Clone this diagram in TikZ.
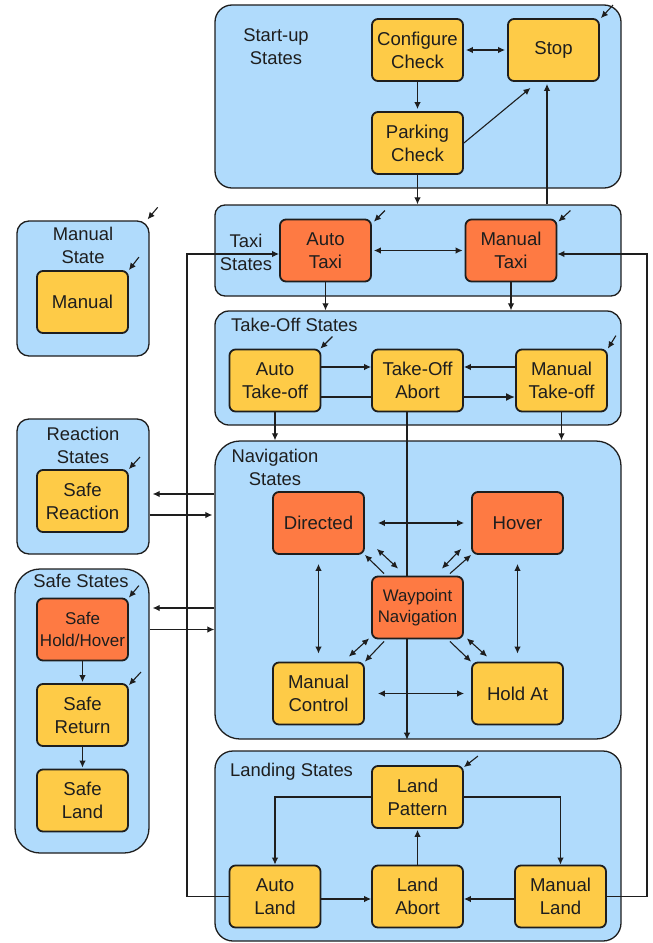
\documentclass[tikz,border=0pt]{standalone}
\usepackage{fontspec}
\setmainfont{Liberation Sans}
\usetikzlibrary{arrows.meta,calc}
\definecolor{panelblue}{HTML}{B0DBFC}
\definecolor{yel}{HTML}{FECB47}
\definecolor{ora}{HTML}{FE7A43}
\definecolor{ink}{HTML}{1E1E1E}
\pgfdeclarelayer{bg}\pgfdeclarelayer{mid}\pgfsetlayers{bg,mid,main}
\tikzset{
 panel/.style={draw=ink, fill=panelblue, line width=1.3bp, inner sep=0pt},
 stbox/.style={draw=ink, line width=1.8bp, rounded corners=6bp, minimum width=91bp, minimum height=62bp, inner sep=0pt, align=center, text=ink, font=\fontsize{18.6bp}{23bp}\selectfont},
 ybox/.style={stbox, fill=yel},
 obox/.style={stbox, fill=ora},
 plabel/.style={text=ink, align=center, inner sep=0pt, font=\fontsize{18.4bp}{23bp}\selectfont},
 arr/.style={draw=ink, line width=1.1bp, -{Latex[length=7bp,width=6.5bp]}},
 darr/.style={draw=ink, line width=1.1bp, {Latex[length=7bp,width=6.5bp]}-{Latex[length=7bp,width=6.5bp]}},
}
\begin{document}
\begin{tikzpicture}[x=1bp,y=-1bp]
\useasboundingbox (0,0) rectangle (653,943);
\begin{pgfonlayer}{bg}
\fill[white] (0,0) rectangle (653,943);
\node[panel, rounded corners=17bp, minimum width=406bp, minimum height=183bp] (startup) at (418,96.5) {};
\node[panel, rounded corners=10bp, minimum width=406bp, minimum height=91bp] (taxipanel) at (418,250.5) {};
\node[panel, rounded corners=14bp, minimum width=406bp, minimum height=114bp] (takeoffpanel) at (418,368) {};
\node[panel, rounded corners=25bp, minimum width=406bp, minimum height=298bp] (navpanel) at (418,590) {};
\node[panel, rounded corners=18bp, minimum width=406bp, minimum height=190bp] (landpanel) at (418,846) {};
\node[panel, rounded corners=12bp, minimum width=132bp, minimum height=135bp] (manpanel) at (83,288.5) {};
\node[panel, rounded corners=12bp, minimum width=132bp, minimum height=135bp] (reactpanel) at (83,486.5) {};
\node[panel, rounded corners=25bp, minimum width=134bp, minimum height=284bp] (safepanel) at (82,711) {};
\end{pgfonlayer}

% panel labels
\node[plabel] (lblstart) at (276,47) {Start-up\\States};
\node[plabel] (lbltaxi) at (246,252.5) {Taxi\\States};
\node[plabel, anchor=west] (lbltakeoff) at (231,325) {Take-Off States};
\node[plabel] (lblnav) at (275,467) {Navigation\\States};
\node[plabel, anchor=west] (lblland) at (230,772) {Landing States};
\node[plabel] (lblman) at (83,245) {Manual\\State};
\node[plabel] (lblreact) at (83,445.5) {Reaction\\States};
\node[plabel] (lblsafe) at (81,581) {Safe States};

% states
\node[ybox] (config) at (417.5,50) {Configure\\Check};
\node[ybox] (stop) at (553.5,50) {Stop};
\node[ybox] (parking) at (417.5,143) {Parking\\Check};
\node[obox] (autotaxi) at (325.5,250.5) {Auto\\Taxi};
\node[obox] (mantaxi) at (511,250.5) {Manual\\Taxi};
\node[ybox] (autoto) at (275,380.5) {Auto\\Take-off};
\node[ybox] (toabort) at (417.5,380.5) {Take-Off\\Abort};
\node[ybox] (manto) at (561.5,380.5) {Manual\\Take-off};
\node[obox] (directed) at (318.5,523) {Directed};
\node[obox] (hover) at (517.5,523) {Hover};
\node[obox, font=\fontsize{16.8bp}{21bp}\selectfont] (wp) at (417.5,607.5) {Waypoint\\Navigation};
\node[ybox] (mancontrol) at (318.5,693.5) {Manual\\Control};
\node[ybox] (holdat) at (517.5,693.5) {Hold At};
\node[ybox] (lpattern) at (417.5,797) {Land\\Pattern};
\node[ybox] (autoland) at (275,896.5) {Auto\\Land};
\node[ybox] (labort) at (417.5,896.5) {Land\\Abort};
\node[ybox] (manland) at (560.5,896.5) {Manual\\Land};
\node[ybox] (manual) at (82.5,302) {Manual};
\node[ybox] (sreact) at (82.5,501) {Safe\\Reaction};
\node[obox, font=\fontsize{17bp}{22bp}\selectfont] (shh) at (82.5,629.5) {Safe\\Hold/Hover};
\node[ybox] (sreturn) at (82.5,715) {Safe\\Return};
\node[ybox] (sland) at (82.5,800.5) {Safe\\Land};

% connectors hidden behind states
\begin{pgfonlayer}{mid}
\draw[draw=ink, line width=1.9bp, -{Latex[length=9bp,width=8bp]}] ($(autoto.east)+(0,16.5)$) -- ($(manto.west)+(0,16.5)$);
\draw[arr] ($(toabort.south)+(-10.5,0)$) -- ($(toabort.south |- navpanel.south)+(-10.5,0)$);
\end{pgfonlayer}

% start-up
\draw[darr, shorten <=2bp, shorten >=2bp] (config) -- (stop);
\draw[arr, shorten >=2bp] (config) -- (parking);
\draw[arr] (parking.east) -- ($(stop.south)+(-23,6)$);
\draw[arr] (parking.south) -- (parking.south |- taxipanel.north);
\draw[arr, shorten >=2bp] ($(taxipanel.north -| stop.south)+(-6.5,0)$) -- ($(stop.south)+(-6.5,0)$);
\draw[arr] ($(stop.north east)+(13,-13)$) -- ($(stop.north east)+(1,0)$);

% taxi
\draw[darr, shorten <=2bp, shorten >=2bp] (autotaxi) -- (mantaxi);
\draw[arr] (autotaxi.south) -- (autotaxi.south |- takeoffpanel.north);
\draw[arr] (mantaxi.south) -- (mantaxi.south |- takeoffpanel.north);
\draw[arr] ($(autotaxi.north east)+(13,-8)$) -- ($(autotaxi.north east)+(2,3)$);
\draw[arr] ($(mantaxi.north east)+(13,-8)$) -- ($(mantaxi.north east)+(1,3)$);
\coordinate (lx) at (187,0);
\coordinate (rx) at (647,0);
\draw[arr] (autoland.west) -- (autoland.west -| lx) |- ($(autotaxi.west)+(0,3.5)$);
\draw[arr] (manland.east) -- (manland.east -| rx) |- ($(mantaxi.east)+(0,3.5)$);

% take-off
\draw[arr] ($(autoto.east)+(0,-13.5)$) -- ($(toabort.west)+(0,-13.5)$);
\draw[arr] ($(manto.west)+(0,-13.5)$) -- ($(toabort.east)+(0,-13.5)$);
\draw[arr] (autoto.south) -- (autoto.south |- navpanel.north);
\draw[arr] (manto.south) -- (manto.south |- navpanel.north);
\draw[arr] ($(autoto.north east)+(11,-12)$) -- ($(autoto.north east)+(-1,0)$);
\draw[arr] ($(manto.north east)+(8,-13)$) -- ($(manto.north east)+(0,0)$);

% navigation
\draw[darr, shorten <=13bp, shorten >=7bp] (directed) -- (hover);
\draw[darr, shorten <=13bp, shorten >=7bp] (mancontrol) -- (holdat);
\draw[darr, shorten <=9bp, shorten >=8bp] (directed) -- (mancontrol);
\draw[darr, shorten <=9bp, shorten >=8bp] (hover) -- (holdat);
\draw[arr] ($(wp.north west)+(13,-2)$) -- (directed.south east);
\draw[darr] ($(directed.south east)+(12,-6)$) -- ($(wp.north west)+(27,-7)$);
\draw[arr] ($(wp.north east)+(-14,-2)$) -- (hover.south west);
\draw[darr] ($(wp.north east)+(-22,-7)$) -- ($(hover.south west)+(-10,-6)$);
\draw[arr] ($(wp.south west)+(13,2)$) -- (mancontrol.north east);
\draw[darr] ($(wp.south west)+(-2,-1)$) -- ($(mancontrol.north east)+(-16,-5)$);
\draw[arr] ($(wp.south east)+(-14,2)$) -- (holdat.north west);
\draw[darr] ($(wp.south east)+(3,-1)$) -- ($(holdat.north west)+(16,-5)$);

% left panels
\draw[arr, shorten >=3bp] ($(sreact.center -| navpanel.west)+(0,-7)$) -- ($(sreact.center -| reactpanel.east)+(0,-7)$);
\draw[arr, shorten >=2bp] ($(sreact.center -| reactpanel.east)+(0,14)$) -- ($(sreact.center -| navpanel.west)+(0,14)$);
\draw[arr, shorten >=3bp] ($(shh.center -| navpanel.west)+(0,-21.5)$) -- ($(shh.center -| safepanel.east)+(0,-21.5)$);
\draw[arr] (shh.center -| safepanel.east) -- (shh.center -| navpanel.west);
\draw[arr, shorten >=1bp] (shh) -- (sreturn);
\draw[arr, shorten >=1bp] (sreturn) -- (sland);
\draw[arr] ($(manpanel.north east)+(8,-13)$) -- ($(manpanel.north east)+(-2,-1)$);
\draw[arr] ($(manual.north east)+(10,-13)$) -- ($(manual.north east)+(0,0)$);
\draw[arr] ($(sreact.north east)+(11,-12)$) -- ($(sreact.north east)+(0,0)$);
\draw[arr] ($(shh.north east)+(10,-12)$) -- ($(shh.north east)+(0,0)$);
\draw[arr] ($(sreturn.north east)+(12,-11)$) -- ($(sreturn.north east)+(0,2)$);

% landing
\draw[arr] (lpattern.west) -| (autoland.north);
\draw[arr] (lpattern.east) -| (manland.north);
\draw[arr, shorten >=1bp] (labort) -- (lpattern);
\draw[arr] ($(autoland.east)+(0,2.5)$) -- ($(labort.west)+(0,2.5)$);
\draw[arr] ($(manland.west)+(0,2.5)$) -- ($(labort.east)+(0,2.5)$);
\draw[arr] ($(lpattern.north east)+(14,-9)$) -- ($(lpattern.north east)+(0,2)$);
\end{tikzpicture}
\end{document}
